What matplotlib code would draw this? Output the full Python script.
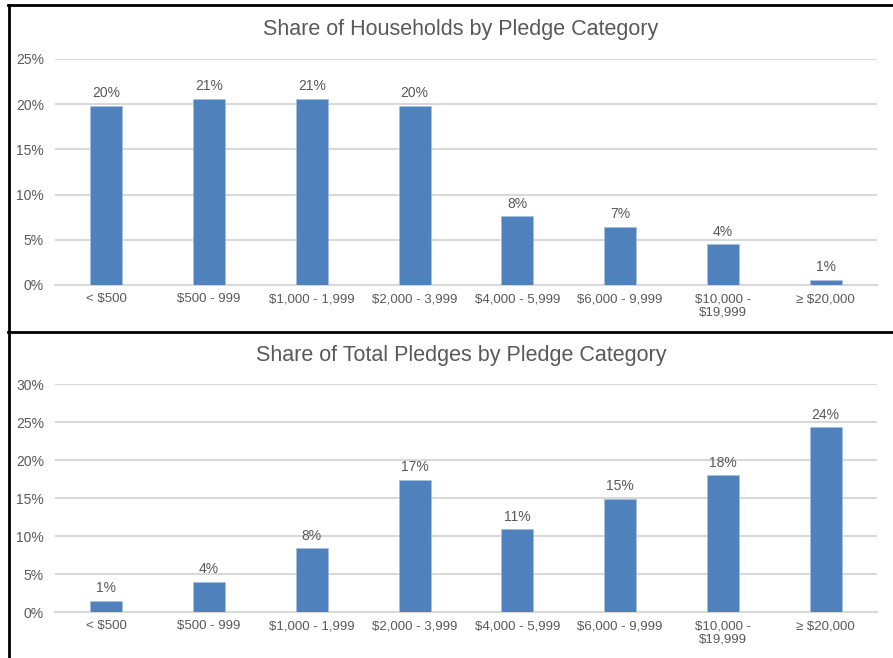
import matplotlib.pyplot as plt
from matplotlib.lines import Line2D
from matplotlib.ticker import PercentFormatter

plt.rcParams['font.family'] = ['Liberation Sans', 'DejaVu Sans']

categories = ['< $500', '$500 - 999', '$1,000 - 1,999', '$2,000 - 3,999',
              '$4,000 - 5,999', '$6,000 - 9,999', '$10,000 -\n$19,999', '≥ $20,000']

households = [19.8, 20.6, 20.6, 19.8, 7.6, 6.45, 4.5, 0.6]
households_labels = ['20%', '21%', '21%', '20%', '8%', '7%', '4%', '1%']

pledges = [1.45, 3.95, 8.4, 17.4, 10.9, 14.9, 18.0, 24.3]
pledges_labels = ['1%', '4%', '8%', '17%', '11%', '15%', '18%', '24%']

W, H = 893, 658
BLUE = '#4F81BD'
TEXT = '#595959'
GRID = '#D9D9D9'

fig = plt.figure(figsize=(W / 100, H / 100), dpi=100)


def px_axes(left, top, right, bottom):
    return fig.add_axes([left / W, 1 - bottom / H, (right - left) / W, (bottom - top) / H])


def panel(ax, values, labels, ymax, title, title_y):
    x = range(len(categories))
    ax.bar(x, values, width=0.31, color=BLUE, edgecolor='#A7BFDE', linewidth=0.5, zorder=3)
    for i, (v, lab) in enumerate(zip(values, labels)):
        ax.annotate(lab, (i, v), xytext=(0, 4), textcoords='offset points',
                    ha='center', va='bottom', fontsize=10, color=TEXT)
    ax.set_xlim(-0.5, len(categories) - 0.5)
    ax.set_ylim(0, ymax)
    ax.set_yticks(range(0, ymax + 1, 5))
    ax.yaxis.set_major_formatter(PercentFormatter(decimals=0))
    ax.set_xticks(list(x))
    ax.set_xticklabels(categories, linespacing=1.15)
    ax.tick_params(axis='both', length=0, labelsize=9.5, labelcolor=TEXT)
    ax.tick_params(axis='y', pad=8, labelsize=10)
    ax.tick_params(axis='x', pad=6)
    ax.grid(axis='y', color=GRID, linewidth=1.5, zorder=0)
    for s in ['top', 'right', 'left']:
        ax.spines[s].set_visible(False)
    ax.spines['bottom'].set_color(GRID)
    ax.spines['bottom'].set_linewidth(1.5)
    fig.text(461 / W, 1 - title_y / H, title, ha='center', va='center',
             fontsize=15.5, color=TEXT)


ax1 = px_axes(55, 59, 877, 285)
panel(ax1, households, households_labels, 25, 'Share of Households by Pledge Category', 30)

ax2 = px_axes(55, 384, 877, 612)
panel(ax2, pledges, pledges_labels, 30, 'Share of Total Pledges by Pledge Category', 356)

# panel borders
for xs, ys in [([8, W], [5, 5]), ([9, 9], [5, H]), ([8, W], [332, 332])]:
    fig.add_artist(Line2D([x / W for x in xs], [1 - y / H for y in ys],
                          color='black', linewidth=2))

fig.savefig('out.png', dpi=100)
